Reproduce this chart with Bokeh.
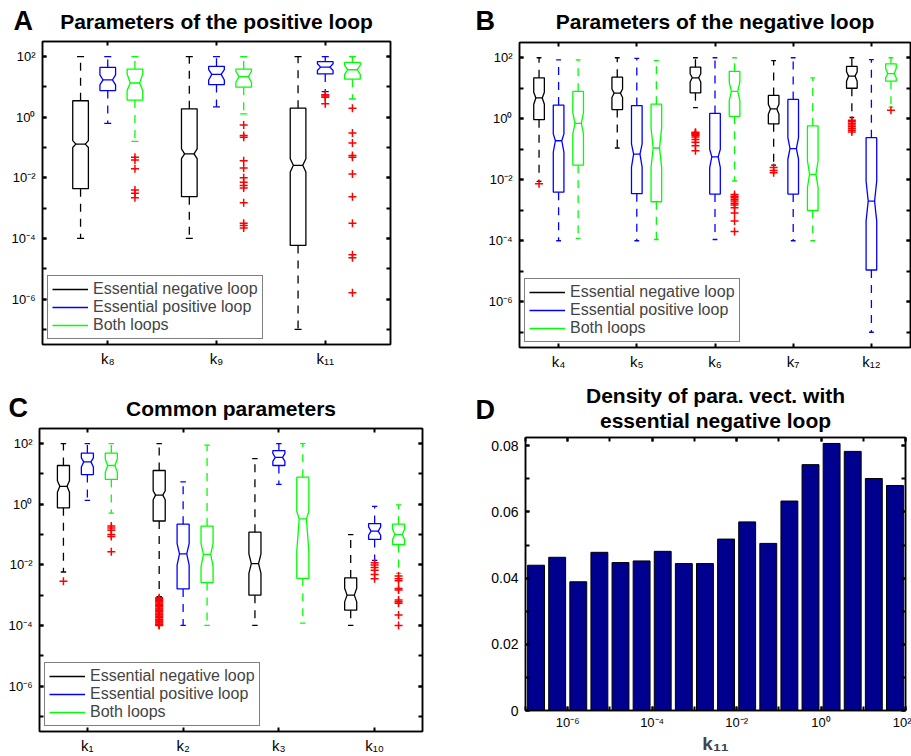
import numpy as np
from bokeh.plotting import figure
from bokeh.models import Range1d, FixedTicker, LinearAxis, LogAxis, Legend, LegendItem
from bokeh.layouts import column, row
from bokeh.embed import file_html
from bokeh.resources import INLINE
from bokeh.core.properties import value

FONT = "Liberation Sans"
NEG_C, POS_C, BOTH_C, OUT_C = "#000000", "#0000FF", "#00FF00", "#FF0000"
LEGEND_LABELS = ["Essential negative loop", "Essential positive loop", "Both loops"]

# decade ticks / labels shared by the log axes
DEC_TICKS = [1e-6, 1e-4, 1e-2, 1.0, 1e2]
DEC_LABELS = ["10⁻⁶", "10⁻⁴", "10⁻²", "10⁰", "10²"]
DEC_MINOR = [1e-7, 1e-6, 1e-5, 1e-4, 1e-3, 1e-2, 1e-1, 1.0, 1e1, 1e2]

# ---------------- Panel A : parameters of the positive loop ----------------
A_title = "Parameters of the positive loop"
A_cats = ["k₈", "k₉", "k₁₁"]
A_neg_whi = [100, 100, 100]
A_neg_q3 = [3.5, 1.9, 2.0]
A_neg_nhi = [0.17, 0.091, 0.043]
A_neg_med = [0.13, 0.062, 0.026]
A_neg_nlo = [0.10, 0.043, 0.0155]
A_neg_q1 = [0.0044, 0.0024, 5.9e-5]
A_neg_wlo = [1e-4, 1e-4, 1e-7]
A_neg_out = [[], [], []]

A_pos_whi = [100, 100, 100]
A_pos_q3 = [44, 48, 69]
A_pos_nhi = [25, 37, 58]
A_pos_med = [17, 26, 45]
A_pos_nlo = [11.7, 17, 35]
A_pos_q1 = [7.6, 12, 27]
A_pos_wlo = [0.63, 2.2, 7.0]
A_pos_out = [[], [], [5.5, 5.0, 4.6, 2.8]]

A_both_whi = [100, 100, 100]
A_both_q3 = [39, 39, 65]
A_both_nhi = [27, 33, 52]
A_both_med = [13.5, 22, 37]
A_both_nlo = [7.6, 14, 26]
A_both_q1 = [3.7, 9.8, 18]
A_both_wlo = [0.16, 1.3, 4.0]
A_both_out = [[0.048, 0.039, 0.020, 0.004, 0.0031, 0.0022],
              [0.56, 0.25, 0.22, 0.037, 0.021, 0.01, 0.0072, 0.0056, 0.0046, 0.0015, 3.2e-4, 2.7e-4, 2.2e-4],
              [2.0, 0.30, 0.14, 0.055, 0.048, 0.0135, 0.0024, 3.2e-4, 2.9e-5, 2.3e-5, 1.6e-6]]

# ---------------- Panel B : parameters of the negative loop ----------------
B_title = "Parameters of the negative loop"
B_cats = ["k₄", "k₅", "k₆", "k₇", "k₁₂"]
B_neg_whi = [100, 100, 100, 81, 100]
B_neg_q3 = [22, 23, 49, 5.8, 52]
B_neg_nhi = [7.4, 9.5, 30, 3.0, 35]
B_neg_med = [4.8, 6.9, 22, 2.1, 25]
B_neg_nlo = [3.0, 5.0, 16, 1.4, 17]
B_neg_q1 = [0.93, 2.0, 7.1, 0.68, 10]
B_neg_wlo = [0.0089, 0.11, 2.3, 0.03, 1.1]
B_neg_out = [[0.0074], [],
             [0.36, 0.34, 0.32, 0.30, 0.28, 0.25, 0.21, 0.17, 0.13, 0.089],
             [0.025, 0.020, 0.017],
             [0.9, 0.8, 0.7, 0.62, 0.55, 0.48, 0.42, 0.37]]

B_pos_whi = [85, 95, 100, 100, 87]
B_pos_q3 = [2.8, 2.7, 1.5, 4.3, 0.24]
B_pos_nhi = [0.32, 0.15, 0.10, 0.24, 0.0091]
B_pos_med = [0.19, 0.069, 0.056, 0.105, 0.002]
B_pos_nlo = [0.081, 0.026, 0.025, 0.047, 4.4e-4]
B_pos_q1 = [0.0039, 0.0035, 0.0034, 0.0034, 1.1e-5]
B_pos_wlo = [1e-4, 1e-4, 1.1e-4, 1e-4, 1e-7]
B_pos_out = [[], [], [], [], []]

B_both_whi = [85, 81, 100, 22, 100]
B_both_q3 = [7.9, 3.0, 36, 0.58, 63]
B_both_nhi = [1.6, 0.51, 16, 0.042, 45]
B_both_med = [0.71, 0.11, 7.9, 0.015, 30]
B_both_nlo = [0.32, 0.025, 3.9, 0.0055, 22]
B_both_q1 = [0.03, 0.0019, 1.2, 9.8e-4, 17]
B_both_wlo = [1.2e-4, 1.1e-4, 0.0091, 1e-4, 2.4]
B_both_out = [[], [],
              [0.0033, 0.0029, 0.0026, 0.0023, 0.002, 0.0017, 0.0015, 0.0012, 8.1e-4, 4.4e-4, 2e-4],
              [], [1.9]]

# ---------------- Panel C : common parameters ----------------
C_title = "Common parameters"
C_cats = ["k₁", "k₂", "k₃", "k₁₀"]
C_neg_whi = [100, 100, 32, 0.1]
C_neg_q3 = [19, 13, 0.12, 0.0037]
C_neg_nhi = [6.0, 2.8, 0.023, 0.0017]
C_neg_med = [3.9, 2.0, 0.011, 0.001]
C_neg_nlo = [2.5, 1.4, 0.0052, 6.0e-4]
C_neg_q1 = [0.76, 0.28, 0.001, 3.2e-4]
C_neg_wlo = [0.0058, 8.9e-4, 1e-4, 1e-4]
C_neg_out = [[0.0029],
             [8.2e-4, 7.6e-4, 7.0e-4, 6.5e-4, 6.0e-4, 5.5e-4, 5.0e-4, 4.6e-4, 4.2e-4, 3.8e-4,
              3.5e-4, 3.2e-4, 2.9e-4, 2.6e-4, 2.4e-4, 2.2e-4, 2.0e-4, 1.8e-4, 1.6e-4, 1.5e-4,
              1.4e-4, 1.3e-4, 1.2e-4, 1.1e-4, 1.05e-4, 1.0e-4],
             [], []]

C_pos_whi = [100, 5.5, 100, 0.85]
C_pos_q3 = [49, 0.22, 59, 0.23]
C_pos_nhi = [34, 0.05, 48, 0.18]
C_pos_med = [25, 0.023, 35, 0.13]
C_pos_nlo = [17, 0.0098, 26, 0.095]
C_pos_q1 = [9.5, 0.0016, 19, 0.069]
C_pos_wlo = [1.35, 1e-4, 4.5, 0.014]
C_pos_out = [[], [], [], [0.0117, 0.0098, 0.0081, 0.0066, 0.0048, 0.0035]]

C_both_whi = [100, 89, 100, 0.95]
C_both_q3 = [49, 0.19, 7.8, 0.22]
C_both_nhi = [31, 0.05, 0.59, 0.15]
C_both_med = [19, 0.022, 0.33, 0.10]
C_both_nlo = [11.5, 0.0087, 0.028, 0.068]
C_both_q1 = [6.6, 0.0026, 0.0036, 0.047]
C_both_wlo = [0.51, 1e-4, 1.2e-4, 0.0052]
C_both_out = [[0.19, 0.166, 0.138, 0.10, 0.087, 0.027], [], [],
              [0.0043, 0.0035, 0.0030, 0.00166, 0.00147, 6.9e-4, 6.0e-4, 5.4e-4, 2.2e-4, 1e-4]]

# ---------------- Panel D : density histogram of k11 ----------------
D_title = ["Density of para. vect. with", "essential negative loop"]
D_xlabel = "k₁₁"
D_bin_log10 = [-6.75, -6.25, -5.75, -5.25, -4.75, -4.25, -3.75, -3.25, -2.75,
               -2.25, -1.75, -1.25, -0.75, -0.25, 0.25, 0.75, 1.25, 1.75]
D_density = [0.0439, 0.0463, 0.0389, 0.0478, 0.0447, 0.0452, 0.0481, 0.0444, 0.0444,
             0.0518, 0.0570, 0.0505, 0.0633, 0.0743, 0.0807, 0.0783, 0.0701, 0.0680]
D_Y_TICKS = [0, 0.02, 0.04, 0.06, 0.08]
D_Y_LABELS = ["0", "0.02", "0.04", "0.06", "0.08"]
D_Y_MINOR = [0, 0.01, 0.02, 0.03, 0.04, 0.05, 0.06, 0.07, 0.08]


def style_axis(ax, ticks, minor, labels, show_labels=True, size="13px", standoff=6):
    ax.ticker = FixedTicker(ticks=ticks, minor_ticks=minor)
    ax.axis_line_width = 1.5
    ax.axis_line_color = "black"
    ax.major_tick_in = 4
    ax.major_tick_out = 0
    ax.minor_tick_in = 4
    ax.minor_tick_out = 0
    ax.major_tick_line_width = 2
    ax.minor_tick_line_width = 2
    ax.major_tick_line_color = "black"
    ax.minor_tick_line_color = "black"
    if show_labels:
        ax.major_label_overrides = dict(zip(ticks, labels))
        ax.major_label_text_font = FONT
        ax.major_label_text_font_size = size
        ax.major_label_text_color = "black"
        ax.major_label_standoff = standoff
    else:
        ax.major_label_overrides = {t: "" for t in ticks}
        ax.major_label_text_font_size = "0px"
        ax.major_label_standoff = 0


LETTER_SHIFT = 7.5   # renderer places glyph text lower than the requested baseline
TITLE_SHIFT = 6.0


def header(width, height, letter, letter_x, letter_base, titles, title_x, title_bases):
    """A strip above a panel holding its letter and bold title (pixel layout coords)."""
    h = figure(width=width, height=height, x_range=Range1d(0, width), y_range=Range1d(height, 0),
               x_axis_location=None, y_axis_location=None, toolbar_location=None,
               output_backend="svg", min_border=0, frame_align=False)
    h.outline_line_color = None
    h.grid.visible = False
    h.text(x=[letter_x], y=[letter_base - LETTER_SHIFT], text=[letter], text_font=value(FONT),
           text_font_size=value("27px"), text_font_style="bold", text_align="left",
           text_baseline="alphabetic", text_color="black")
    h.text(x=[title_x] * len(titles), y=[b - TITLE_SHIFT for b in title_bases], text=titles,
           text_font=value(FONT), text_font_size=value("21px"), text_font_style="bold",
           text_align="center", text_baseline="alphabetic", text_color="black")
    return h


def draw_group(p, xs, hw, color, whi, q3, nhi, med, nlo, q1, wlo, out):
    nf = 0.6   # notch narrowing
    cf = 0.45  # whisker cap half width (fraction of box half width)
    pxs, pys = [], []
    for x, a, b, c, d, e in zip(xs, q1, nlo, med, nhi, q3):
        pxs.append([x - hw, x + hw, x + hw, x + nf * hw, x + hw, x + hw,
                    x - hw, x - hw, x - nf * hw, x - hw])
        pys.append([a, a, b, c, d, e, e, d, c, b])
    p.patches(pxs, pys, fill_color=None, line_color=color, line_width=1.3)
    xs = np.array(xs, dtype=float)
    p.segment(x0=xs - nf * hw, y0=med, x1=xs + nf * hw, y1=med, line_color=color, line_width=1.3)
    p.segment(x0=xs, y0=q3, x1=xs, y1=whi, line_color=color, line_width=1.3, line_dash="8 7")
    p.segment(x0=xs, y0=q1, x1=xs, y1=wlo, line_color=color, line_width=1.3, line_dash="8 7")
    p.segment(x0=xs - cf * hw, y0=whi, x1=xs + cf * hw, y1=whi, line_color=color, line_width=1.3)
    p.segment(x0=xs - cf * hw, y0=wlo, x1=xs + cf * hw, y1=wlo, line_color=color, line_width=1.3)
    ox = [x for x, o in zip(xs, out) for _ in o]
    oy = [v for o in out for v in o]
    if ox:
        p.scatter(ox, oy, marker="cross", size=8, line_color=OUT_C, line_width=1.5)


def box_panel(width, height, borders, xr, cats, hw, groups):
    l, r, t, b = borders
    p = figure(width=width, height=height, x_range=Range1d(*xr),
               y_range=Range1d(10 ** -7.5, 10 ** 2.5), y_axis_type="log",
               output_backend="svg", toolbar_location=None, frame_align=False,
               min_border_left=l, min_border_right=r, min_border_top=t, min_border_bottom=b)
    p.grid.visible = False
    p.outline_line_color = "black"
    p.outline_line_width = 1.5
    positions = list(range(1, len(cats) + 1))
    style_axis(p.xaxis[0], positions, [], cats, standoff=5, size="15px")
    style_axis(p.yaxis[0], DEC_TICKS, DEC_MINOR, DEC_LABELS, standoff=7)
    top = LinearAxis()
    style_axis(top, positions, [], cats, show_labels=False)
    p.add_layout(top, "above")
    right = LogAxis()
    style_axis(right, DEC_TICKS, DEC_MINOR, DEC_LABELS, show_labels=False)
    p.add_layout(right, "right")
    for off, color, st in groups:
        xs = [c + off for c in positions]
        draw_group(p, xs, hw, color, *st)
    rs = [p.line(x=[np.nan], y=[np.nan], line_color=c, line_width=1.5) for c in (NEG_C, POS_C, BOTH_C)]
    leg = Legend(items=[LegendItem(label=lab, renderers=[rr]) for lab, rr in zip(LEGEND_LABELS, rs)],
                 location="bottom_left", margin=5, padding=4, spacing=0,
                 glyph_width=36, glyph_height=18, label_height=18, label_standoff=5,
                 label_text_font=FONT, label_text_font_size="16px",
                 border_line_color="black", border_line_width=1.5,
                 background_fill_color="white", background_fill_alpha=1.0)
    p.add_layout(leg)
    return p


pA = box_panel(455, 344, (42, 65, 5, 36), (0.4, 3.6), A_cats, 0.072,
               [(-0.25, NEG_C, (A_neg_whi, A_neg_q3, A_neg_nhi, A_neg_med, A_neg_nlo, A_neg_q1, A_neg_wlo, A_neg_out)),
                (0.0, POS_C, (A_pos_whi, A_pos_q3, A_pos_nhi, A_pos_med, A_pos_nlo, A_pos_q1, A_pos_wlo, A_pos_out)),
                (0.25, BOTH_C, (A_both_whi, A_both_q3, A_both_nhi, A_both_med, A_both_nlo, A_both_q1, A_both_wlo, A_both_out))])
hA = header(455, 36, "A", 13, 28.3, [A_title], 216, [27.3])

pB = box_panel(456, 344, (64, 1, 6, 33), (0.5, 5.5), B_cats, 0.068,
               [(-0.25, NEG_C, (B_neg_whi, B_neg_q3, B_neg_nhi, B_neg_med, B_neg_nlo, B_neg_q1, B_neg_wlo, B_neg_out)),
                (0.0, POS_C, (B_pos_whi, B_pos_q3, B_pos_nhi, B_pos_med, B_pos_nlo, B_pos_q1, B_pos_wlo, B_pos_out)),
                (0.25, BOTH_C, (B_both_whi, B_both_q3, B_both_nhi, B_both_med, B_both_nlo, B_both_q1, B_both_wlo, B_both_out))])
hB = header(456, 36, "B", 20, 28, [B_title], 259.5, [27.3])

pC = box_panel(455, 334, (39, 33, 6, 24), (0.5, 4.5), C_cats, 0.063,
               [(-0.25, NEG_C, (C_neg_whi, C_neg_q3, C_neg_nhi, C_neg_med, C_neg_nlo, C_neg_q1, C_neg_wlo, C_neg_out)),
                (0.0, POS_C, (C_pos_whi, C_pos_q3, C_pos_nhi, C_pos_med, C_pos_nlo, C_pos_q1, C_pos_wlo, C_pos_out)),
                (0.25, BOTH_C, (C_both_whi, C_both_q3, C_both_nhi, C_both_med, C_both_nlo, C_both_q1, C_both_wlo, C_both_out))])
hC = header(455, 42, "C", 8, 35, [C_title], 230.5, [34.3])

# ---- Panel D ----
dl, dr, dt, db = 70, 6, 5, 45
pD = figure(width=456, height=324, x_axis_type="log", x_range=Range1d(1e-7, 1e2),
            y_range=Range1d(0, 0.0825), output_backend="svg", toolbar_location=None,
            frame_align=False,
            min_border_left=dl, min_border_right=dr, min_border_top=dt, min_border_bottom=db)
pD.grid.visible = False
pD.outline_line_color = "black"
pD.outline_line_width = 1.5
centers = np.array(D_bin_log10)
pD.quad(left=10 ** (centers - 0.2), right=10 ** (centers + 0.2), bottom=0, top=D_density,
        fill_color="#00008F", line_color="black", line_width=1)
style_axis(pD.xaxis[0], DEC_TICKS, DEC_MINOR, DEC_LABELS, standoff=4)
style_axis(pD.yaxis[0], D_Y_TICKS, D_Y_MINOR, D_Y_LABELS, standoff=7, size="14px")
pD.xaxis[0].axis_label = D_xlabel
pD.xaxis[0].axis_label_text_font = FONT
pD.xaxis[0].axis_label_text_font_size = "19px"
pD.xaxis[0].axis_label_text_font_style = "bold"
pD.xaxis[0].axis_label_standoff = 0
topD = LogAxis()
style_axis(topD, DEC_TICKS, DEC_MINOR, DEC_LABELS, show_labels=False)
pD.add_layout(topD, "above")
rightD = LinearAxis()
style_axis(rightD, D_Y_TICKS, D_Y_MINOR, D_Y_LABELS, show_labels=False)
pD.add_layout(rightD, "right")
hD = header(456, 52, "D", 20, 37, D_title, 260, [20.7, 46])

layout = column(row(column(hA, pA), column(hB, pB)),
                row(column(hC, pC), column(hD, pD)))
with open("out.html", "w") as f:
    f.write(file_html(layout, INLINE))
